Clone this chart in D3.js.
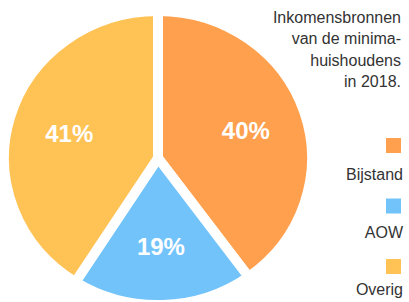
<html>
<head>
	<meta charset="utf-8">
	<title>Inkomensbronnen</title>
	<script src="https://d3js.org/d3.v7.min.js"></script>
	<style type="text/css">
		body{ margin:0; background:white; }
		text{ font-family:"Liberation Sans", Arial, sans-serif; }
	</style>
</head>
<body>
	<script type="text/javascript">
		var w = 409;
		var h = 302;

		// data
		var categories = ["Bijstand","AOW","Overig"];
		var values = [40,19,41];
		var colors = ["#FFA04F","#73C3FB","#FFC254"];
		var titleLines = ["Inkomensbronnen","van de minima-","huishoudens","in 2018."];

		var cx = 158, cy = 158, radius = 154;
		var squash = 0.953;   // taart is iets platter dan rond

		var svg = d3.select("body").append("svg")
		      .attr("width",w)
		      .attr("height",h);

		var pie = d3.pie().sort(null).value(function(d){ return d; });
		var arcs = pie(values);

		var arc = d3.arc().innerRadius(0).outerRadius(radius);
		var labelArc = d3.arc().innerRadius(radius*0.6).outerRadius(radius*0.6);

		svg.append("g")
		   .attr("transform","translate(" + cx + "," + cy + ") scale(1," + squash + ")")
		   .selectAll("path")
		   .data(arcs)
		   .enter()
		   .append("path")
		   .attr("d",arc)
		   .attr("fill",function(d,i){ return colors[i]; })
		   .attr("stroke","white")
		   .attr("stroke-width",10)
		   .attr("stroke-linejoin","miter");

		svg.append("g")
		   .attr("transform","translate(" + cx + "," + cy + ")")
		   .selectAll("text")
		   .data(arcs)
		   .enter()
		   .append("text")
		   .attr("x",function(d){ return labelArc.centroid(d)[0]; })
		   .attr("y",function(d){ return labelArc.centroid(d)[1]*squash; })
		   .attr("dy","0.36em")
		   .attr("text-anchor","middle")
		   .attr("fill","white")
		   .attr("font-weight","bold")
		   .attr("font-size","24px")
		   .text(function(d){ return d.data + "%"; });

		//titel
		svg.selectAll("text.title")
		   .data(titleLines)
		   .enter()
		   .append("text")
		   .attr("class","title")
		   .attr("x",401)
		   .attr("y",function(d,i){ return 23 + i*21.3; })
		   .attr("text-anchor","end")
		   .attr("fill","#333")
		   .attr("font-size","16px")
		   .text(function(d){ return d; });

		//legenda
		var legend = svg.selectAll("g.legend")
		   .data(categories)
		   .enter()
		   .append("g")
		   .attr("class","legend");

		legend.append("rect")
		   .attr("x",386)
		   .attr("y",function(d,i){ return 138 + i*60.5; })
		   .attr("width",15)
		   .attr("height",15)
		   .attr("fill",function(d,i){ return colors[i]; });

		legend.append("text")
		   .attr("x",403)
		   .attr("y",function(d,i){ return 180 + i*57.5; })
		   .attr("text-anchor","end")
		   .attr("fill","#333")
		   .attr("font-size","16px")
		   .text(function(d){ return d; });
	</script>
</body>
</html>
